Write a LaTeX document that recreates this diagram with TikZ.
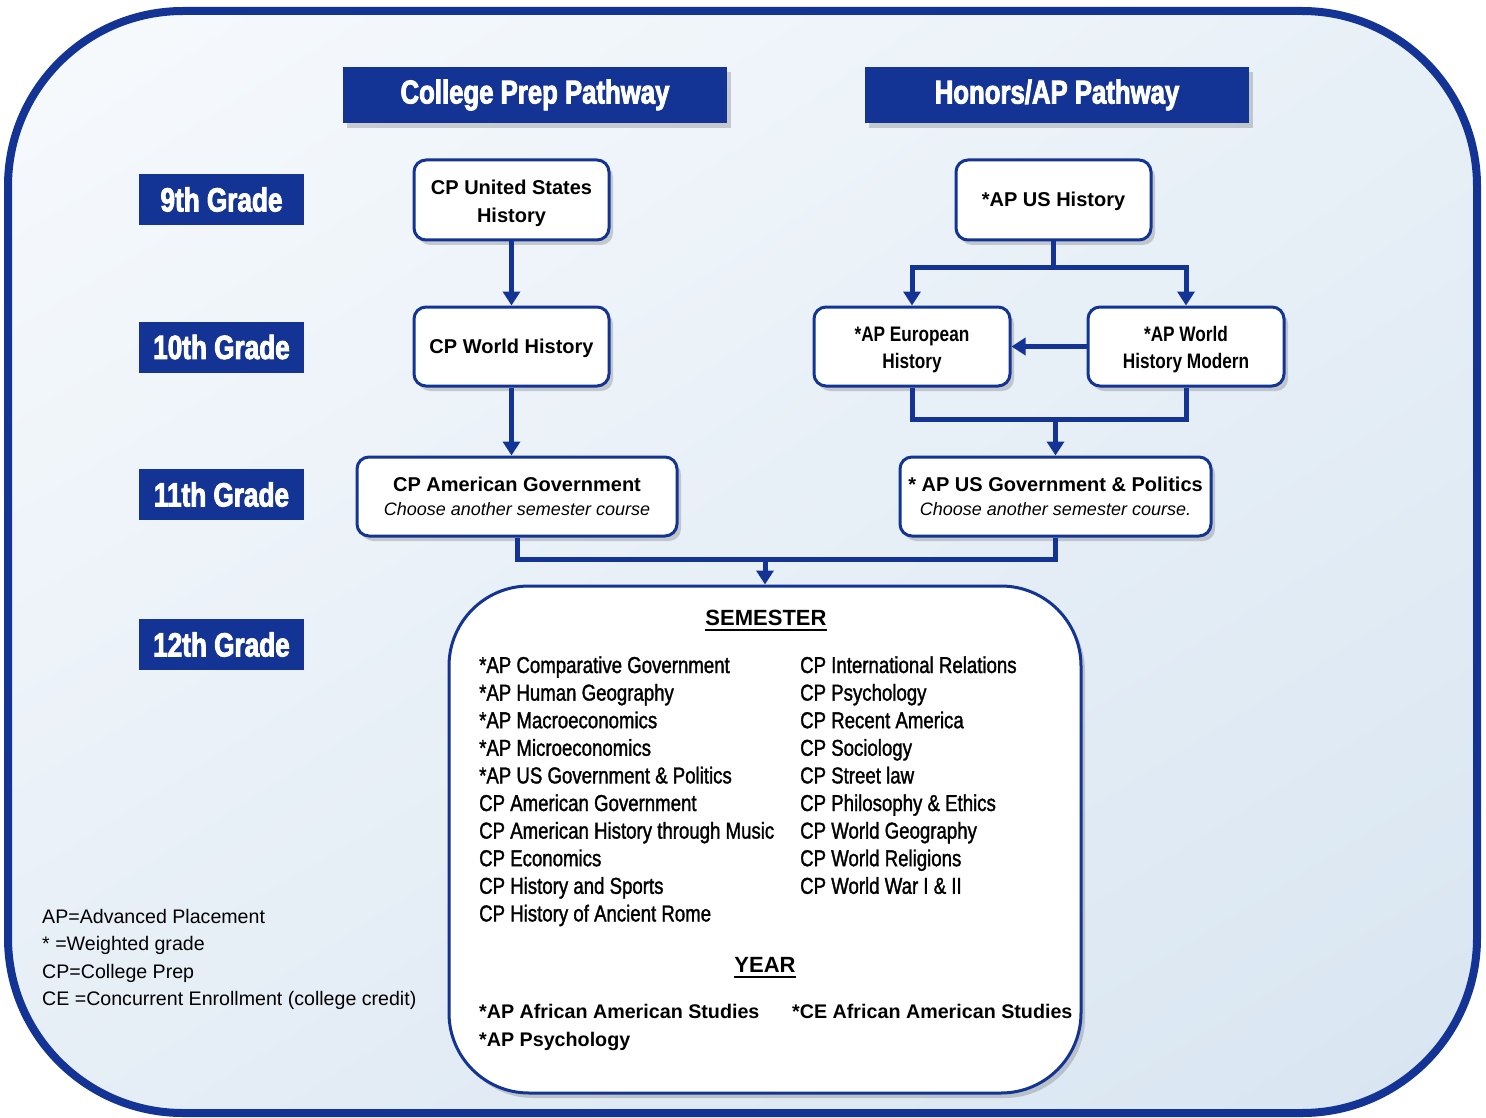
\documentclass[tikz,border=0pt]{standalone}
\usepackage{fontspec}
\setmainfont{Liberation Sans}
\newfontfamily\narrowf{Liberation Sans}[FakeStretch=0.82]
\newfontfamily\listfont{Liberation Sans}[FakeStretch=0.81,FakeBold=1.4]
\newfontfamily\impactf{Liberation Sans}[FakeStretch=0.78,FakeBold=2.6]
\usetikzlibrary{arrows.meta,shadows,shadings,calc}
\definecolor{navy}{RGB}{19,52,148}
\definecolor{bgTL}{RGB}{247,250,253}
\definecolor{bgTR}{RGB}{232,240,247}
\definecolor{bgBL}{RGB}{230,238,246}
\definecolor{bgBR}{RGB}{216,229,241}
\newcommand{\lowr}{\rule{0pt}{22pt}}
\begin{document}
\begin{tikzpicture}[x=1pt,y=-1pt,
  shad/.style={drop shadow={shadow xshift=4pt,shadow yshift=-5pt,opacity=0.25,fill=black!70}},
  hdr/.style={fill=navy,text=white,font=\impactf\bfseries\fontsize{33}{36}\selectfont,
    minimum width=384pt,minimum height=56pt,inner sep=0pt,shad},
  grade/.style={fill=navy,text=white,font=\impactf\bfseries\fontsize{33.5}{36}\selectfont,
    minimum width=165pt,minimum height=51pt,inner sep=0pt},
  course/.style={draw=navy,line width=3pt,fill=white,rounded corners=12pt,align=center,
    inner sep=0pt,minimum height=79pt,font=\bfseries\fontsize{20}{28}\selectfont,shad},
  conn/.style={draw=navy,line width=5pt},
  arr/.style={conn,-{Triangle[width=17pt,length=14pt]}},
  listf/.style={font=\listfont\fontsize{23}{26}\selectfont,anchor=base west,inner sep=0pt},
  yearf/.style={font=\bfseries\fontsize{19.7}{24}\selectfont,anchor=base west,inner sep=0pt},
  legf/.style={font=\fontsize{19.6}{24}\selectfont,anchor=base west,inner sep=0pt},
  subh/.style={font=\bfseries\fontsize{22}{26}\selectfont,anchor=base,inner sep=0pt}
]
\useasboundingbox (0,0) rectangle (1486,1118);
% frame
\shade[upper left=bgTL,upper right=bgTR,lower left=bgBL,lower right=bgBR,rounded corners=175pt]
  (8,11) rectangle (1477,1113);
\draw[navy,line width=8pt,rounded corners=175pt] (8,11) rectangle (1477,1113);

% headers
\node[hdr] (hcp) at (535,95) {College Prep Pathway};
\node[hdr] (hap) at (1057,95) {Honors/AP Pathway};

% grades
\node[grade] (g9)  at (221.5,199.5) {9th Grade};
\node[grade] (g10) at (221.5,347) {10th Grade};
\node[grade] (g11) at (221.5,494.5) {11th Grade};
\node[grade] (g12) at (221.5,644.5) {12th Grade};

% CP pathway
\node[course,minimum width=195pt,minimum height=80pt] (cpus) at (511.5,200) {\lowr CP United States\\History};
\node[course,minimum width=195pt] (cpwh) at (511.5,346.5) {\rule{0pt}{18pt}CP World History};
\node[course,minimum width=320pt,font=\bfseries\fontsize{20}{24}\selectfont] (cpag) at (517,496.5)
  {CP American Government\\{\mdseries\itshape\fontsize{18}{24}\selectfont Choose another semester course}};

% AP pathway
\node[course,minimum width=195pt,minimum height=80pt] (apus) at (1053.5,200) {\rule{0pt}{18pt}*AP US History};
\node[course,minimum width=196pt,font=\narrowf\bfseries\fontsize{21}{27}\selectfont] (apeu) at (912,346.5) {\lowr *AP European\\History};
\node[course,minimum width=196pt,font=\narrowf\bfseries\fontsize{21}{27}\selectfont] (apwh) at (1186,346.5) {\lowr *AP World\\History Modern};
\node[course,minimum width=311pt,font=\bfseries\fontsize{20}{24}\selectfont] (apgov) at (1055.5,496.5)
  {* AP US Government \& Politics\\{\mdseries\itshape\fontsize{18}{24}\selectfont Choose another semester course.}};

% 12th grade box
\node[draw=navy,line width=3pt,fill=white,rounded corners=80pt,minimum width=632pt,
  minimum height=507pt,inner sep=0pt,shad] (sem) at (765,839.5) {};

% connectors
\draw[arr] (cpus) -- (cpwh);
\draw[arr] (cpwh.south) -- (cpag.north -| cpwh.south);
\coordinate (j1) at ($(apus.south)+(0,26)$);
\draw[conn] (apus.south) -- (j1);
\draw[arr] (j1) -| (apeu.north);
\draw[arr] (j1) -| (apwh.north);
\draw[arr] (apwh.west) -- (apeu.east);
\coordinate (j2) at ($(apgov.north)+(0,-36)$);
\draw[conn] (apeu.south) |- (j2) -| (apwh.south);
\draw[arr] (j2) -- (apgov.north);
\coordinate (j3) at ($(sem.north)+(0,-25)$);
\draw[conn] (cpag.south) |- (j3) -| (apgov.south);
\draw[arr] (j3) -- (sem.north);

% semester contents
\node[subh] (semh) at (766,625) {SEMESTER};
\draw[line width=2pt] ($(semh.base west)+(0,5)$) -- ($(semh.base east)+(0,5)$);
\foreach \t [count=\i from 0] in {{*AP Comparative Government},{*AP Human Geography},
  {*AP Macroeconomics},{*AP Microeconomics},{*AP US Government \& Politics},
  {CP American Government},{CP American History through Music},{CP Economics},
  {CP History and Sports},{CP History of Ancient Rome}}
  \node[listf] (sl\i) at (479,{673+27.6*\i}) {\t};
\foreach \t [count=\i from 0] in {{CP International Relations},{CP Psychology},
  {CP Recent America},{CP Sociology},{CP Street law},{CP Philosophy \& Ethics},
  {CP World Geography},{CP World Religions},{CP World War I \& II}}
  \node[listf] (sr\i) at (800,{673+27.6*\i}) {\t};
\node[subh] (yearh) at (765,972) {YEAR};
\draw[line width=2pt] ($(yearh.base west)+(0,5)$) -- ($(yearh.base east)+(0,5)$);
\node[yearf] (y1) at (479,1018) {*AP African American Studies};
\node[yearf] (y2) at (479,1046) {*AP Psychology};
\node[yearf] (y3) at (792,1018) {*CE African American Studies};

% legend
\node[legf] (lg1) at (42,923) {AP=Advanced Placement};
\node[legf] (lg2) at (42,950) {* =Weighted grade};
\node[legf] (lg3) at (42,978) {CP=College Prep};
\node[legf] (lg4) at (42,1005) {CE =Concurrent Enrollment (college credit)};
\end{tikzpicture}
\end{document}
